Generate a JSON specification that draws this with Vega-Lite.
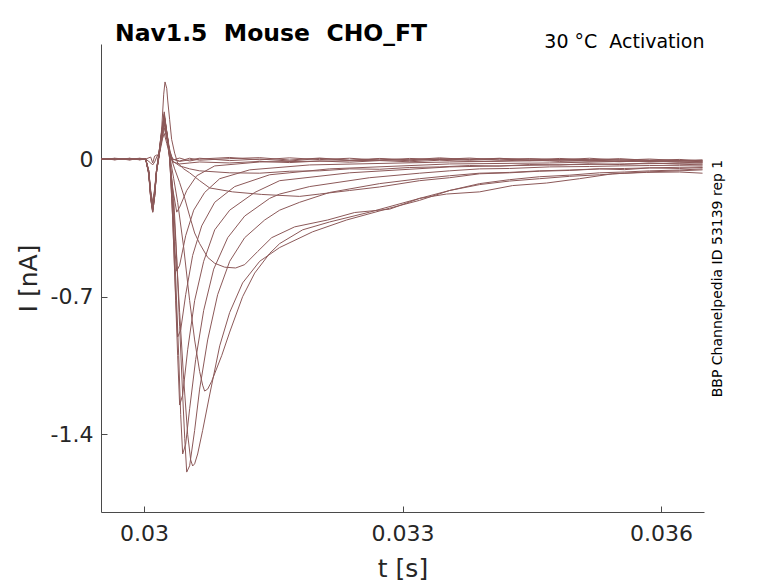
{
"$schema": "https://vega.github.io/schema/vega-lite/v6.json",
"width": 603, "height": 468,
"autosize": {"type": "none"},
"padding": {"left": 101, "top": 44, "right": 74, "bottom": 71},
"background": "white",
"config": {"view": {"stroke": null}, "font": "DejaVu Sans"},
"title": {"text": "Nav1.5\u00a0\u00a0Mouse\u00a0\u00a0CHO_FT", "anchor": "start", "frame": "group", "dx": 14, "dy": 32, "offset": 0, "fontSize": 23.5, "fontWeight": "bold", "color": "#000000", "font": "DejaVu Sans", "baseline": "alphabetic"},
"data": {"values": [
{"s":1,"t":0.0295,"i":0.003},{"s":1,"t":0.02966,"i":-0.004},{"s":1,"t":0.029833,"i":0.004},{"s":1,"t":0.02995,"i":-0.003},{"s":1,"t":0.030019,"i":0},{"s":1,"t":0.030077,"i":-0.02},{"s":1,"t":0.0301,"i":-0.03},{"s":1,"t":0.030123,"i":-0.015},{"s":1,"t":0.030146,"i":0.01},{"s":1,"t":0.03017,"i":0.03},{"s":1,"t":0.030204,"i":0.09},{"s":1,"t":0.030234,"i":0.13},{"s":1,"t":0.030263,"i":0.08},{"s":1,"t":0.030297,"i":0.02},{"s":1,"t":0.030332,"i":-0.005},{"s":1,"t":0.030413,"i":0.005},{"s":1,"t":0.030529,"i":-0.01},{"s":1,"t":0.030645,"i":0},{"s":1,"t":0.030994,"i":0.008},{"s":1,"t":0.031342,"i":-0.004},{"s":1,"t":0.03169,"i":0.006},{"s":1,"t":0.032038,"i":-0.003},{"s":1,"t":0.032386,"i":0.004},{"s":1,"t":0.032734,"i":-0.006},{"s":1,"t":0.033083,"i":0.003},{"s":1,"t":0.033431,"i":-0.002},{"s":1,"t":0.033779,"i":0.005},{"s":1,"t":0.034127,"i":-0.005},{"s":1,"t":0.034475,"i":0.002},{"s":1,"t":0.034823,"i":-0.004},{"s":1,"t":0.035172,"i":0.004},{"s":1,"t":0.03552,"i":-0.006},{"s":1,"t":0.035868,"i":0},{"s":1,"t":0.036216,"i":-0.008},{"s":1,"t":0.036483,"i":-0.004},
{"s":2,"t":0.0295,"i":-0.003},{"s":2,"t":0.02966,"i":0.004},{"s":2,"t":0.029833,"i":-0.002},{"s":2,"t":0.02995,"i":0.003},{"s":2,"t":0.030019,"i":0},{"s":2,"t":0.030077,"i":0.01},{"s":2,"t":0.0301,"i":-0.02},{"s":2,"t":0.030123,"i":0.015},{"s":2,"t":0.030146,"i":0.02},{"s":2,"t":0.03017,"i":0.01},{"s":2,"t":0.030204,"i":0.08},{"s":2,"t":0.030234,"i":0.16},{"s":2,"t":0.030263,"i":0.1},{"s":2,"t":0.030297,"i":0.03},{"s":2,"t":0.030332,"i":0},{"s":2,"t":0.030413,"i":-0.01},{"s":2,"t":0.030529,"i":0.004},{"s":2,"t":0.030645,"i":-0.006},{"s":2,"t":0.030994,"i":0.002},{"s":2,"t":0.031342,"i":0.007},{"s":2,"t":0.03169,"i":-0.005},{"s":2,"t":0.032038,"i":0.005},{"s":2,"t":0.032386,"i":-0.006},{"s":2,"t":0.032734,"i":0.003},{"s":2,"t":0.033083,"i":-0.004},{"s":2,"t":0.033431,"i":0.006},{"s":2,"t":0.033779,"i":-0.003},{"s":2,"t":0.034127,"i":0.004},{"s":2,"t":0.034475,"i":-0.006},{"s":2,"t":0.034823,"i":0.003},{"s":2,"t":0.035172,"i":-0.004},{"s":2,"t":0.03552,"i":0.002},{"s":2,"t":0.035868,"i":-0.007},{"s":2,"t":0.036216,"i":-0.002},{"s":2,"t":0.036483,"i":-0.01},
{"s":3,"t":0.0295,"i":0},{"s":3,"t":0.02966,"i":0.003},{"s":3,"t":0.029833,"i":-0.004},{"s":3,"t":0.02995,"i":0.002},{"s":3,"t":0.030019,"i":0},{"s":3,"t":0.030054,"i":-0.06},{"s":3,"t":0.030077,"i":-0.16},{"s":3,"t":0.0301,"i":-0.22},{"s":3,"t":0.030123,"i":-0.15},{"s":3,"t":0.030146,"i":-0.05},{"s":3,"t":0.03017,"i":0.01},{"s":3,"t":0.030204,"i":0.1},{"s":3,"t":0.030234,"i":0.18},{"s":3,"t":0.030263,"i":0.12},{"s":3,"t":0.030297,"i":0.04},{"s":3,"t":0.030332,"i":0},{"s":3,"t":0.030413,"i":-0.012},{"s":3,"t":0.030529,"i":-0.004},{"s":3,"t":0.030645,"i":0.004},{"s":3,"t":0.030994,"i":-0.008},{"s":3,"t":0.031342,"i":0},{"s":3,"t":0.03169,"i":-0.01},{"s":3,"t":0.032038,"i":0.003},{"s":3,"t":0.032386,"i":-0.007},{"s":3,"t":0.032734,"i":0},{"s":3,"t":0.033083,"i":-0.009},{"s":3,"t":0.033431,"i":0.002},{"s":3,"t":0.033779,"i":-0.006},{"s":3,"t":0.034127,"i":0.001},{"s":3,"t":0.034475,"i":-0.008},{"s":3,"t":0.034823,"i":-0.002},{"s":3,"t":0.035172,"i":-0.01},{"s":3,"t":0.03552,"i":-0.004},{"s":3,"t":0.035868,"i":-0.012},{"s":3,"t":0.036216,"i":-0.006},{"s":3,"t":0.036483,"i":-0.015},
{"s":4,"t":0.0295,"i":0.002},{"s":4,"t":0.02966,"i":-0.003},{"s":4,"t":0.029833,"i":0.002},{"s":4,"t":0.02995,"i":-0.004},{"s":4,"t":0.030019,"i":0},{"s":4,"t":0.030054,"i":-0.07},{"s":4,"t":0.030077,"i":-0.18},{"s":4,"t":0.0301,"i":-0.25},{"s":4,"t":0.030123,"i":-0.17},{"s":4,"t":0.030146,"i":-0.06},{"s":4,"t":0.03017,"i":0.005},{"s":4,"t":0.030204,"i":0.11},{"s":4,"t":0.030234,"i":0.2},{"s":4,"t":0.030263,"i":0.13},{"s":4,"t":0.030297,"i":0.03},{"s":4,"t":0.030332,"i":-0.015},{"s":4,"t":0.030413,"i":-0.025},{"s":4,"t":0.030529,"i":-0.02},{"s":4,"t":0.030645,"i":-0.015},{"s":4,"t":0.030994,"i":-0.02},{"s":4,"t":0.031342,"i":-0.012},{"s":4,"t":0.03169,"i":-0.018},{"s":4,"t":0.032038,"i":-0.01},{"s":4,"t":0.032386,"i":-0.016},{"s":4,"t":0.032734,"i":-0.008},{"s":4,"t":0.033083,"i":-0.014},{"s":4,"t":0.033431,"i":-0.006},{"s":4,"t":0.033779,"i":-0.012},{"s":4,"t":0.034127,"i":-0.01},{"s":4,"t":0.034475,"i":-0.004},{"s":4,"t":0.034823,"i":-0.012},{"s":4,"t":0.035172,"i":-0.006},{"s":4,"t":0.03552,"i":-0.014},{"s":4,"t":0.035868,"i":-0.008},{"s":4,"t":0.036216,"i":-0.016},{"s":4,"t":0.036483,"i":-0.02},
{"s":5,"t":0.0295,"i":0.002},{"s":5,"t":0.02966,"i":-0.003},{"s":5,"t":0.029833,"i":0.003},{"s":5,"t":0.02995,"i":-0.002},{"s":5,"t":0.030019,"i":0},{"s":5,"t":0.030054,"i":-0.07},{"s":5,"t":0.030077,"i":-0.19},{"s":5,"t":0.0301,"i":-0.26},{"s":5,"t":0.030123,"i":-0.18},{"s":5,"t":0.030146,"i":-0.06},{"s":5,"t":0.03017,"i":0.01},{"s":5,"t":0.030204,"i":0.12},{"s":5,"t":0.030234,"i":0.21},{"s":5,"t":0.030263,"i":0.13},{"s":5,"t":0.030297,"i":0.05},{"s":5,"t":0.030332,"i":-0.01},{"s":5,"t":0.030413,"i":-0.035},{"s":5,"t":0.030529,"i":-0.05},{"s":5,"t":0.030645,"i":-0.06},{"s":5,"t":0.030994,"i":-0.07},{"s":5,"t":0.031342,"i":-0.072},{"s":5,"t":0.03169,"i":-0.062},{"s":5,"t":0.032038,"i":-0.06},{"s":5,"t":0.032386,"i":-0.05},{"s":5,"t":0.032734,"i":-0.052},{"s":5,"t":0.033083,"i":-0.043},{"s":5,"t":0.033431,"i":-0.04},{"s":5,"t":0.033779,"i":-0.033},{"s":5,"t":0.034127,"i":-0.036},{"s":5,"t":0.034475,"i":-0.028},{"s":5,"t":0.034823,"i":-0.03},{"s":5,"t":0.035172,"i":-0.024},{"s":5,"t":0.03552,"i":-0.028},{"s":5,"t":0.035868,"i":-0.02},{"s":5,"t":0.036216,"i":-0.026},{"s":5,"t":0.036483,"i":-0.03},
{"s":6,"t":0.0295,"i":-0.002},{"s":6,"t":0.02966,"i":0.003},{"s":6,"t":0.029833,"i":-0.003},{"s":6,"t":0.02995,"i":0.002},{"s":6,"t":0.030019,"i":0},{"s":6,"t":0.030054,"i":-0.06},{"s":6,"t":0.030077,"i":-0.17},{"s":6,"t":0.0301,"i":-0.24},{"s":6,"t":0.030123,"i":-0.17},{"s":6,"t":0.030146,"i":-0.05},{"s":6,"t":0.03017,"i":0.02},{"s":6,"t":0.030204,"i":0.15},{"s":6,"t":0.030228,"i":0.33},{"s":6,"t":0.030243,"i":0.392},{"s":6,"t":0.030263,"i":0.36},{"s":6,"t":0.030274,"i":0.3},{"s":6,"t":0.030297,"i":0.2},{"s":6,"t":0.03032,"i":0.1},{"s":6,"t":0.030355,"i":0.03},{"s":6,"t":0.03039,"i":-0.02},{"s":6,"t":0.03046,"i":-0.05},{"s":6,"t":0.030529,"i":-0.07},{"s":6,"t":0.030645,"i":-0.11},{"s":6,"t":0.030761,"i":-0.147},{"s":6,"t":0.031028,"i":-0.167},{"s":6,"t":0.031365,"i":-0.18},{"s":6,"t":0.031806,"i":-0.19},{"s":6,"t":0.032038,"i":-0.178},{"s":6,"t":0.032386,"i":-0.16},{"s":6,"t":0.032734,"i":-0.142},{"s":6,"t":0.033199,"i":-0.11},{"s":6,"t":0.033547,"i":-0.095},{"s":6,"t":0.033895,"i":-0.075},{"s":6,"t":0.034243,"i":-0.07},{"s":6,"t":0.034591,"i":-0.062},{"s":6,"t":0.034939,"i":-0.058},{"s":6,"t":0.035288,"i":-0.05},{"s":6,"t":0.035578,"i":-0.054},{"s":6,"t":0.035868,"i":-0.045},{"s":6,"t":0.036216,"i":-0.048},{"s":6,"t":0.036483,"i":-0.043},
{"s":7,"t":0.0295,"i":0.001},{"s":7,"t":0.02966,"i":-0.002},{"s":7,"t":0.029833,"i":0.003},{"s":7,"t":0.02995,"i":-0.003},{"s":7,"t":0.030019,"i":0},{"s":7,"t":0.030054,"i":-0.07},{"s":7,"t":0.030077,"i":-0.2},{"s":7,"t":0.0301,"i":-0.27},{"s":7,"t":0.030123,"i":-0.19},{"s":7,"t":0.030146,"i":-0.06},{"s":7,"t":0.03017,"i":0.01},{"s":7,"t":0.030204,"i":0.13},{"s":7,"t":0.030234,"i":0.22},{"s":7,"t":0.030263,"i":0.14},{"s":7,"t":0.030297,"i":0.03},{"s":7,"t":0.030355,"i":-0.05},{"s":7,"t":0.030413,"i":-0.12},{"s":7,"t":0.030472,"i":-0.2},{"s":7,"t":0.030529,"i":-0.29},{"s":7,"t":0.030587,"i":-0.376},{"s":7,"t":0.030645,"i":-0.43},{"s":7,"t":0.030738,"i":-0.5},{"s":7,"t":0.03082,"i":-0.53},{"s":7,"t":0.030936,"i":-0.55},{"s":7,"t":0.031063,"i":-0.554},{"s":7,"t":0.031168,"i":-0.537},{"s":7,"t":0.031319,"i":-0.47},{"s":7,"t":0.031481,"i":-0.4},{"s":7,"t":0.031748,"i":-0.345},{"s":7,"t":0.032131,"i":-0.31},{"s":7,"t":0.032444,"i":-0.272},{"s":7,"t":0.03285,"i":-0.255},{"s":7,"t":0.033199,"i":-0.2},{"s":7,"t":0.033512,"i":-0.178},{"s":7,"t":0.033895,"i":-0.167},{"s":7,"t":0.034278,"i":-0.135},{"s":7,"t":0.034673,"i":-0.122},{"s":7,"t":0.035055,"i":-0.1},{"s":7,"t":0.035439,"i":-0.075},{"s":7,"t":0.035833,"i":-0.068},{"s":7,"t":0.036216,"i":-0.066},{"s":7,"t":0.036483,"i":-0.072},
{"s":8,"t":0.0295,"i":-0.003},{"s":8,"t":0.02966,"i":0.002},{"s":8,"t":0.029833,"i":-0.001},{"s":8,"t":0.02995,"i":0.004},{"s":8,"t":0.030019,"i":0},{"s":8,"t":0.030054,"i":-0.07},{"s":8,"t":0.030077,"i":-0.18},{"s":8,"t":0.0301,"i":-0.25},{"s":8,"t":0.030123,"i":-0.17},{"s":8,"t":0.030146,"i":-0.06},{"s":8,"t":0.03017,"i":0.01},{"s":8,"t":0.030204,"i":0.11},{"s":8,"t":0.030234,"i":0.2},{"s":8,"t":0.030263,"i":0.12},{"s":8,"t":0.030297,"i":0.02},{"s":8,"t":0.030344,"i":-0.1},{"s":8,"t":0.03039,"i":-0.22},{"s":8,"t":0.03046,"i":-0.45},{"s":8,"t":0.030529,"i":-0.72},{"s":8,"t":0.030587,"i":-0.92},{"s":8,"t":0.030645,"i":-1.08},{"s":8,"t":0.03068,"i":-1.15},{"s":8,"t":0.030703,"i":-1.18},{"s":8,"t":0.030738,"i":-1.17},{"s":8,"t":0.030785,"i":-1.13},{"s":8,"t":0.030901,"i":-1.0},{"s":8,"t":0.030994,"i":-0.88},{"s":8,"t":0.031144,"i":-0.7},{"s":8,"t":0.031284,"i":-0.58},{"s":8,"t":0.031458,"i":-0.48},{"s":8,"t":0.031574,"i":-0.43},{"s":8,"t":0.031841,"i":-0.36},{"s":8,"t":0.032154,"i":-0.32},{"s":8,"t":0.032618,"i":-0.27},{"s":8,"t":0.033199,"i":-0.2},{"s":8,"t":0.033547,"i":-0.16},{"s":8,"t":0.033895,"i":-0.13},{"s":8,"t":0.034243,"i":-0.112},{"s":8,"t":0.034591,"i":-0.1},{"s":8,"t":0.034939,"i":-0.088},{"s":8,"t":0.035288,"i":-0.08},{"s":8,"t":0.035578,"i":-0.072},{"s":8,"t":0.035868,"i":-0.065},{"s":8,"t":0.036216,"i":-0.06},{"s":8,"t":0.036483,"i":-0.055},
{"s":9,"t":0.0295,"i":0.002},{"s":9,"t":0.02966,"i":-0.002},{"s":9,"t":0.029833,"i":0.002},{"s":9,"t":0.02995,"i":-0.002},{"s":9,"t":0.030019,"i":0},{"s":9,"t":0.030054,"i":-0.08},{"s":9,"t":0.030077,"i":-0.2},{"s":9,"t":0.0301,"i":-0.27},{"s":9,"t":0.030123,"i":-0.19},{"s":9,"t":0.030146,"i":-0.06},{"s":9,"t":0.03017,"i":0},{"s":9,"t":0.030204,"i":0.12},{"s":9,"t":0.030234,"i":0.22},{"s":9,"t":0.030274,"i":0.11},{"s":9,"t":0.030297,"i":0},{"s":9,"t":0.030332,"i":-0.17},{"s":9,"t":0.030367,"i":-0.42},{"s":9,"t":0.030413,"i":-0.78},{"s":9,"t":0.03046,"i":-1.12},{"s":9,"t":0.030506,"i":-1.4},{"s":9,"t":0.030541,"i":-1.53},{"s":9,"t":0.030564,"i":-1.561},{"s":9,"t":0.030587,"i":-1.55},{"s":9,"t":0.030622,"i":-1.5},{"s":9,"t":0.03068,"i":-1.38},{"s":9,"t":0.030761,"i":-1.2},{"s":9,"t":0.030878,"i":-0.95},{"s":9,"t":0.030994,"i":-0.78},{"s":9,"t":0.031144,"i":-0.63},{"s":9,"t":0.031342,"i":-0.52},{"s":9,"t":0.031574,"i":-0.45},{"s":9,"t":0.031957,"i":-0.37},{"s":9,"t":0.032351,"i":-0.31},{"s":9,"t":0.03285,"i":-0.25},{"s":9,"t":0.033199,"i":-0.21},{"s":9,"t":0.033547,"i":-0.16},{"s":9,"t":0.033895,"i":-0.125},{"s":9,"t":0.034243,"i":-0.105},{"s":9,"t":0.034591,"i":-0.09},{"s":9,"t":0.034939,"i":-0.082},{"s":9,"t":0.035288,"i":-0.07},{"s":9,"t":0.035578,"i":-0.066},{"s":9,"t":0.035868,"i":-0.06},{"s":9,"t":0.036216,"i":-0.056},{"s":9,"t":0.036483,"i":-0.05},
{"s":10,"t":0.0295,"i":-0.001},{"s":10,"t":0.02966,"i":0.003},{"s":10,"t":0.029833,"i":-0.003},{"s":10,"t":0.02995,"i":0.001},{"s":10,"t":0.030019,"i":0},{"s":10,"t":0.030054,"i":-0.07},{"s":10,"t":0.030077,"i":-0.19},{"s":10,"t":0.0301,"i":-0.26},{"s":10,"t":0.030123,"i":-0.18},{"s":10,"t":0.030146,"i":-0.05},{"s":10,"t":0.03017,"i":0.01},{"s":10,"t":0.030204,"i":0.11},{"s":10,"t":0.030234,"i":0.2},{"s":10,"t":0.030274,"i":0.1},{"s":10,"t":0.030297,"i":0},{"s":10,"t":0.030344,"i":-0.2},{"s":10,"t":0.030379,"i":-0.5},{"s":10,"t":0.030413,"i":-0.85},{"s":10,"t":0.030448,"i":-1.2},{"s":10,"t":0.030472,"i":-1.42},{"s":10,"t":0.030495,"i":-1.592},{"s":10,"t":0.030529,"i":-1.56},{"s":10,"t":0.030587,"i":-1.38},{"s":10,"t":0.030645,"i":-1.17},{"s":10,"t":0.030738,"i":-0.92},{"s":10,"t":0.030854,"i":-0.69},{"s":10,"t":0.030994,"i":-0.52},{"s":10,"t":0.031168,"i":-0.4},{"s":10,"t":0.0314,"i":-0.31},{"s":10,"t":0.031574,"i":-0.26},{"s":10,"t":0.031806,"i":-0.22},{"s":10,"t":0.032154,"i":-0.17},{"s":10,"t":0.032734,"i":-0.125},{"s":10,"t":0.033199,"i":-0.1},{"s":10,"t":0.033547,"i":-0.085},{"s":10,"t":0.033895,"i":-0.072},{"s":10,"t":0.034243,"i":-0.068},{"s":10,"t":0.034591,"i":-0.06},{"s":10,"t":0.034939,"i":-0.056},{"s":10,"t":0.035288,"i":-0.05},{"s":10,"t":0.035578,"i":-0.048},{"s":10,"t":0.035868,"i":-0.045},{"s":10,"t":0.036216,"i":-0.042},{"s":10,"t":0.036483,"i":-0.04},
{"s":11,"t":0.0295,"i":0.001},{"s":11,"t":0.02966,"i":-0.003},{"s":11,"t":0.029833,"i":0.002},{"s":11,"t":0.02995,"i":-0.001},{"s":11,"t":0.030019,"i":0},{"s":11,"t":0.030054,"i":-0.07},{"s":11,"t":0.030077,"i":-0.2},{"s":11,"t":0.0301,"i":-0.27},{"s":11,"t":0.030123,"i":-0.19},{"s":11,"t":0.030146,"i":-0.06},{"s":11,"t":0.03017,"i":0.01},{"s":11,"t":0.030204,"i":0.12},{"s":11,"t":0.030234,"i":0.19},{"s":11,"t":0.030274,"i":0.09},{"s":11,"t":0.030297,"i":0},{"s":11,"t":0.030332,"i":-0.25},{"s":11,"t":0.030367,"i":-0.6},{"s":11,"t":0.030402,"i":-1.0},{"s":11,"t":0.030425,"i":-1.3},{"s":11,"t":0.030448,"i":-1.5},{"s":11,"t":0.030483,"i":-1.45},{"s":11,"t":0.030529,"i":-1.27},{"s":11,"t":0.030599,"i":-1.02},{"s":11,"t":0.030692,"i":-0.77},{"s":11,"t":0.030808,"i":-0.56},{"s":11,"t":0.030971,"i":-0.4},{"s":11,"t":0.031168,"i":-0.29},{"s":11,"t":0.031458,"i":-0.2},{"s":11,"t":0.031574,"i":-0.178},{"s":11,"t":0.031922,"i":-0.14},{"s":11,"t":0.032618,"i":-0.095},{"s":11,"t":0.033199,"i":-0.072},{"s":11,"t":0.033547,"i":-0.06},{"s":11,"t":0.033895,"i":-0.05},{"s":11,"t":0.034243,"i":-0.048},{"s":11,"t":0.034707,"i":-0.04},{"s":11,"t":0.035172,"i":-0.038},{"s":11,"t":0.03552,"i":-0.035},{"s":11,"t":0.035868,"i":-0.033},{"s":11,"t":0.036216,"i":-0.032},{"s":11,"t":0.036483,"i":-0.03},
{"s":12,"t":0.0295,"i":-0.002},{"s":12,"t":0.02966,"i":0.002},{"s":12,"t":0.029833,"i":-0.002},{"s":12,"t":0.02995,"i":0.003},{"s":12,"t":0.030019,"i":0},{"s":12,"t":0.030054,"i":-0.06},{"s":12,"t":0.030077,"i":-0.17},{"s":12,"t":0.0301,"i":-0.23},{"s":12,"t":0.030123,"i":-0.16},{"s":12,"t":0.030146,"i":-0.05},{"s":12,"t":0.03017,"i":0.02},{"s":12,"t":0.030204,"i":0.13},{"s":12,"t":0.030234,"i":0.2},{"s":12,"t":0.030274,"i":0.09},{"s":12,"t":0.030297,"i":0.01},{"s":12,"t":0.030332,"i":-0.3},{"s":12,"t":0.030367,"i":-0.72},{"s":12,"t":0.03039,"i":-1.0},{"s":12,"t":0.030413,"i":-1.251},{"s":12,"t":0.030448,"i":-1.2},{"s":12,"t":0.030506,"i":-0.97},{"s":12,"t":0.030587,"i":-0.72},{"s":12,"t":0.030692,"i":-0.52},{"s":12,"t":0.03082,"i":-0.36},{"s":12,"t":0.030994,"i":-0.26},{"s":12,"t":0.031284,"i":-0.17},{"s":12,"t":0.031574,"i":-0.11},{"s":12,"t":0.032386,"i":-0.07},{"s":12,"t":0.033547,"i":-0.04},{"s":12,"t":0.034707,"i":-0.03},{"s":12,"t":0.035578,"i":-0.025},{"s":12,"t":0.036483,"i":-0.02},
{"s":13,"t":0.0295,"i":0.002},{"s":13,"t":0.02966,"i":-0.001},{"s":13,"t":0.029833,"i":0.003},{"s":13,"t":0.02995,"i":-0.002},{"s":13,"t":0.030019,"i":0},{"s":13,"t":0.030054,"i":-0.07},{"s":13,"t":0.030077,"i":-0.18},{"s":13,"t":0.0301,"i":-0.25},{"s":13,"t":0.030123,"i":-0.17},{"s":13,"t":0.030146,"i":-0.05},{"s":13,"t":0.03017,"i":0.02},{"s":13,"t":0.030204,"i":0.14},{"s":13,"t":0.030234,"i":0.22},{"s":13,"t":0.030274,"i":0.1},{"s":13,"t":0.030297,"i":0.02},{"s":13,"t":0.030332,"i":-0.3},{"s":13,"t":0.030367,"i":-0.7},{"s":13,"t":0.03039,"i":-0.905},{"s":13,"t":0.030425,"i":-0.87},{"s":13,"t":0.030483,"i":-0.69},{"s":13,"t":0.030564,"i":-0.49},{"s":13,"t":0.030669,"i":-0.34},{"s":13,"t":0.03082,"i":-0.22},{"s":13,"t":0.031052,"i":-0.14},{"s":13,"t":0.031458,"i":-0.08},{"s":13,"t":0.032154,"i":-0.05},{"s":13,"t":0.033547,"i":-0.025},{"s":13,"t":0.034707,"i":-0.02},{"s":13,"t":0.035578,"i":-0.012},{"s":13,"t":0.036483,"i":-0.015},
{"s":14,"t":0.0295,"i":-0.001},{"s":14,"t":0.02966,"i":0.002},{"s":14,"t":0.029833,"i":-0.004},{"s":14,"t":0.02995,"i":0.002},{"s":14,"t":0.030019,"i":0},{"s":14,"t":0.030054,"i":-0.07},{"s":14,"t":0.030077,"i":-0.19},{"s":14,"t":0.0301,"i":-0.26},{"s":14,"t":0.030123,"i":-0.18},{"s":14,"t":0.030146,"i":-0.06},{"s":14,"t":0.03017,"i":0.01},{"s":14,"t":0.030204,"i":0.13},{"s":14,"t":0.030234,"i":0.23},{"s":14,"t":0.030274,"i":0.1},{"s":14,"t":0.030297,"i":0.03},{"s":14,"t":0.030332,"i":-0.2},{"s":14,"t":0.030355,"i":-0.45},{"s":14,"t":0.030379,"i":-0.57},{"s":14,"t":0.030413,"i":-0.54},{"s":14,"t":0.030483,"i":-0.39},{"s":14,"t":0.030576,"i":-0.26},{"s":14,"t":0.030703,"i":-0.17},{"s":14,"t":0.030878,"i":-0.1},{"s":14,"t":0.031226,"i":-0.055},{"s":14,"t":0.031922,"i":-0.03},{"s":14,"t":0.033547,"i":-0.015},{"s":14,"t":0.034707,"i":-0.008},{"s":14,"t":0.035578,"i":-0.012},{"s":14,"t":0.036483,"i":-0.01},
{"s":15,"t":0.0295,"i":0.003},{"s":15,"t":0.02966,"i":-0.002},{"s":15,"t":0.029833,"i":0.001},{"s":15,"t":0.02995,"i":-0.003},{"s":15,"t":0.030019,"i":0},{"s":15,"t":0.030054,"i":-0.06},{"s":15,"t":0.030077,"i":-0.18},{"s":15,"t":0.0301,"i":-0.24},{"s":15,"t":0.030123,"i":-0.17},{"s":15,"t":0.030146,"i":-0.05},{"s":15,"t":0.03017,"i":0.02},{"s":15,"t":0.030204,"i":0.14},{"s":15,"t":0.030234,"i":0.24},{"s":15,"t":0.030274,"i":0.1},{"s":15,"t":0.030297,"i":0.01},{"s":15,"t":0.030332,"i":-0.15},{"s":15,"t":0.030379,"i":-0.27},{"s":15,"t":0.030413,"i":-0.245},{"s":15,"t":0.030495,"i":-0.16},{"s":15,"t":0.030611,"i":-0.085},{"s":15,"t":0.03082,"i":-0.035},{"s":15,"t":0.031342,"i":-0.015},{"s":15,"t":0.032967,"i":-0.005},{"s":15,"t":0.034127,"i":0.002},{"s":15,"t":0.035288,"i":-0.004},{"s":15,"t":0.036483,"i":-0.008}
]},
"layer": [
{"mark": {"type": "line", "color": "#8c5959", "strokeWidth": 1, "clip": true},
 "encoding": {
  "x": {"field": "t", "type": "quantitative", "scale": {"domain": [0.0295, 0.0365], "nice": false, "zero": false},
        "axis": {"orient": "bottom", "values": [0.03, 0.033, 0.036], "labelExpr": "'' + datum.value", "grid": false,
                 "domainColor": "#4a4a4a", "tickColor": "#4a4a4a", "tickSize": -6, "labelFontSize": 22, "labelColor": "#262626", "labelFont": "DejaVu Sans",
                 "labelBaseline": "alphabetic", "labelPadding": 34, "labelFlush": false,
                 "title": "t [s]", "titleFontSize": 25, "titleFontWeight": "normal", "titleColor": "#262626", "titleFont": "DejaVu Sans",
                 "titleBaseline": "alphabetic", "titleY": 64}},
  "y": {"field": "i", "type": "quantitative", "scale": {"domain": [-1.795, 0.585], "nice": false, "zero": false},
        "axis": {"orient": "left", "values": [-1.4, -0.7, 0], "labelExpr": "datum.value < 0 ? '-' + (-datum.value) : '' + datum.value", "grid": false,
                 "domainColor": "#4a4a4a", "tickColor": "#4a4a4a", "tickSize": -6, "labelFontSize": 22, "labelColor": "#262626", "labelFont": "DejaVu Sans",
                 "labelBaseline": "middle", "labelPadding": 14, "labelFlush": false,
                 "title": "I [nA]", "titleFontSize": 25, "titleFontWeight": "normal", "titleColor": "#262626", "titleFont": "DejaVu Sans",
                 "titleAngle": 270, "titleAlign": "center", "titleBaseline": "middle", "titleX": -73, "titleY": 234}},
  "detail": {"field": "s", "type": "nominal"}
 }},
{"mark": {"type": "line", "strokeOpacity": 0, "opacity": 0},
 "encoding": {
  "x": {"field": "t", "type": "quantitative",
        "axis": {"orient": "top", "labels": false, "ticks": false, "domain": false, "grid": false,
                 "title": "30 °C\u00a0\u00a0Activation", "titleFontSize": 19, "titleFontWeight": "normal", "titleColor": "#000000", "titleFont": "DejaVu Sans",
                 "titleAnchor": "end", "titleAlign": "right", "titleBaseline": "alphabetic", "titleX": 603, "titleY": 3}},
  "y": {"field": "i", "type": "quantitative",
        "axis": {"orient": "right", "labels": false, "ticks": false, "domain": false, "grid": false,
                 "title": "BBP Channelpedia ID 53139 rep 1", "titleFontSize": 14, "titleFontWeight": "normal", "titleColor": "#000000", "titleFont": "DejaVu Sans",
                 "titleAngle": 270, "titleAlign": "center", "titleBaseline": "middle", "titleX": 13, "titleY": 234}},
  "detail": {"field": "s", "type": "nominal"}
 }}
],
"resolve": {"axis": {"x": "independent", "y": "independent"}}
}
